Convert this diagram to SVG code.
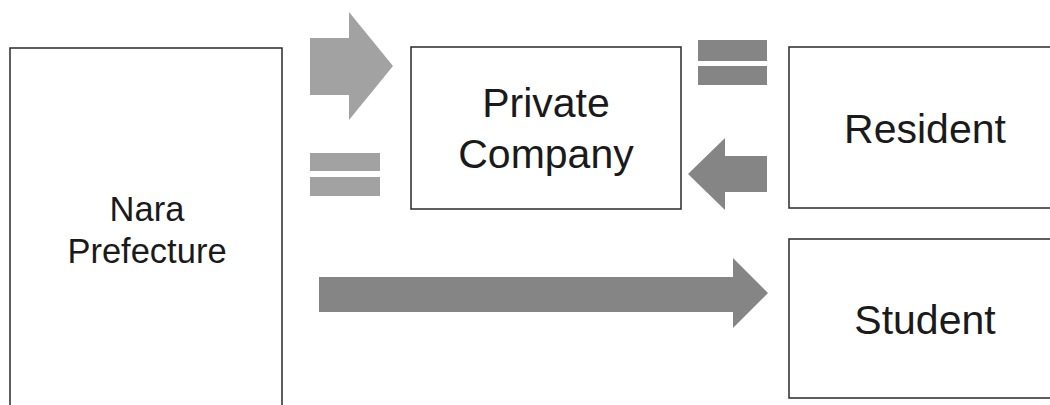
<svg xmlns="http://www.w3.org/2000/svg" width="1050" height="405" viewBox="0 0 1050 405">
<style>
.box{fill:#ffffff;stroke:#2a2a2a;stroke-width:1.5}
.lbl{font-family:"Liberation Sans",Arial,sans-serif;fill:#1a1a1a;text-anchor:middle}
.big{font-size:41px}
.mid{font-size:34.5px}
.light{fill:#a2a2a2}
.dark{fill:#858585}
</style>
<rect width="1050" height="405" fill="#ffffff"/>
<g id="nara">
<rect class="box" x="10" y="48" width="272" height="365"/>
<text class="lbl mid" x="147" y="221">Nara</text>
<text class="lbl mid" x="147" y="263">Prefecture</text>
</g>
<g id="private-company">
<rect class="box" x="411" y="47" width="270" height="162"/>
<text class="lbl big" x="546" y="117">Private</text>
<text class="lbl big" x="546" y="168">Company</text>
</g>
<g id="resident">
<rect class="box" x="789" y="47" width="270" height="161"/>
<text class="lbl big" x="925" y="143">Resident</text>
</g>
<g id="student">
<rect class="box" x="789" y="239" width="270" height="159"/>
<text class="lbl big" x="925" y="334">Student</text>
</g>
<g id="connectors">
<polygon class="light" points="310,38 349,38 349,12 393,66 349,120 349,95 310,95"/>
<polygon class="dark" points="767,156 725,156 725,138 688,174 725,210 725,192 767,192"/>
<polygon class="dark" points="319,277 733,277 733,258 768,293 733,328 733,312 319,312"/>
</g>
<g id="symbols">
<rect class="light" x="310" y="153" width="70" height="18"/>
<rect class="light" x="310" y="177" width="70" height="19"/>
<rect class="dark" x="698" y="40" width="69" height="21"/>
<rect class="dark" x="698" y="66" width="69" height="19"/>
</g>
</svg>
